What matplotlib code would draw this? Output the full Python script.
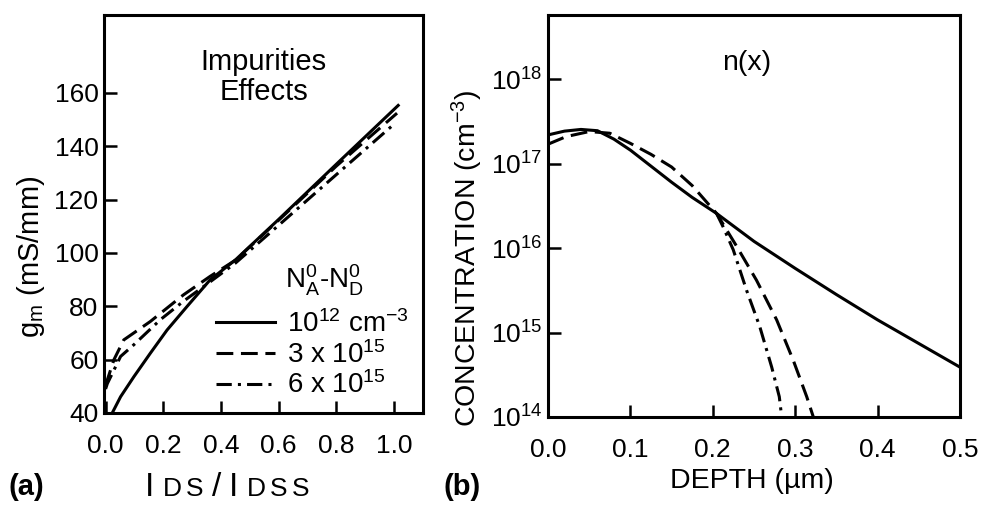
import numpy as np
import matplotlib
matplotlib.use("Agg")
from matplotlib import pyplot as plt
from matplotlib.ticker import FixedLocator, FormatStrFormatter, FixedFormatter
from matplotlib.offsetbox import TextArea, HPacker, AnnotationBbox

plt.rcParams['font.family'] = ['Liberation Sans', 'DejaVu Sans']
plt.rcParams['mathtext.default'] = 'regular'

# (a) transconductance vs normalised drain current
ids_solid = [0.023, 0.052, 0.098, 0.155, 0.213, 0.282, 0.362, 0.45, 0.6, 0.8, 1.014]
gm_solid = [40.0, 46.1, 53.6, 62.4, 71.1, 79.9, 89.9, 97.4, 112.6, 133.3, 155.3]

ids_dash = [0.0, 0.006, 0.029, 0.063, 0.155, 0.27, 0.362, 0.45, 0.6, 0.8, 1.01]
gm_dash = [50.0, 52.4, 60.0, 67.4, 74.3, 84.3, 91.2, 97.3, 112.3, 132.6, 152.4]

ids_dashdot = [0.0, 0.006, 0.052, 0.098, 0.19, 0.27, 0.36, 0.45, 0.6, 0.8, 1.003]
gm_dashdot = [49.0, 51.0, 61.2, 65.6, 75.0, 81.9, 89.0, 96.2, 110.4, 129.4, 148.6]

doping_labels = ["10$^{12}$ cm$^{-3}$", "3 x 10$^{15}$", "6 x 10$^{15}$"]
gm_ticks = [40, 60, 80, 100, 120, 140, 160]
ids_ticks = [0.0, 0.2, 0.4, 0.6, 0.8, 1.0]

# (b) electron concentration profiles, log10(n) vs depth
depth_solid = [0.0, 0.02, 0.04, 0.06, 0.08, 0.10, 0.125, 0.15, 0.175, 0.2046,
               0.25, 0.30, 0.35, 0.40, 0.45, 0.5]
logn_solid = [17.34, 17.385, 17.405, 17.39, 17.29, 17.16, 16.97, 16.78, 16.60, 16.41,
              16.08, 15.76, 15.45, 15.15, 14.87, 14.59]

depth_dash = [0.0, 0.022, 0.05, 0.075, 0.10, 0.125, 0.15, 0.175, 0.2046, 0.229,
              0.253, 0.2775, 0.2977, 0.314, 0.322]
logn_dash = [17.23, 17.32, 17.38, 17.36, 17.24, 17.11, 16.96, 16.74, 16.41, 16.02,
             15.62, 15.15, 14.67, 14.24, 14.0]

depth_dashdot = [0.2046, 0.2126, 0.2248, 0.241, 0.257, 0.2715, 0.2807, 0.2836]
logn_dashdot = [16.41, 16.25, 15.98, 15.50, 15.07, 14.59, 14.24, 14.0]

depth_ticks = [0.0, 0.1, 0.2, 0.3, 0.4, 0.5]
conc_exps = [14, 15, 16, 17, 18]

lw = 2.2
dash = (0, (5.5, 2.5))
dashdot = (0, (5, 2, 1, 2))
tick_fs = 19
label_fs = 20.5

fig = plt.figure(figsize=(9.81, 5.05), dpi=100)
ax1 = fig.add_axes([104 / 981, 1 - 413 / 505, 319 / 981, 398 / 505])
ax2 = fig.add_axes([548 / 981, 1 - 417 / 505, 412 / 981, 402 / 505])

for ax in (ax1, ax2):
    for sp in ax.spines.values():
        sp.set_linewidth(2.2)
    ax.tick_params(direction='in', length=9, width=1.8, labelsize=tick_fs)
    ax.tick_params(axis='x', pad=15)
    ax.tick_params(axis='y', pad=4)

# left panel
ax1.plot(ids_solid, gm_solid, color='black', lw=lw, ls='-', label=doping_labels[0])
ax1.plot(ids_dash, gm_dash, color='black', lw=lw, ls=dash, label=doping_labels[1])
ax1.plot(ids_dashdot, gm_dashdot, color='black', lw=lw, ls=dashdot, label=doping_labels[2])
ax1.set_xlim(-0.0055, 1.10)
ax1.set_ylim(40, 189.2)
ax1.xaxis.set_major_locator(FixedLocator(ids_ticks))
ax1.xaxis.set_major_formatter(FormatStrFormatter('%.1f'))
ax1.yaxis.set_major_locator(FixedLocator(gm_ticks))

ax1.text(0.50, 0.845, "Impurities\nEffects", transform=ax1.transAxes,
         ha='center', va='center', fontsize=21, linespacing=1.1)
ax1.text(0.69, 0.334, "N$^0_A$-N$^0_D$", transform=ax1.transAxes,
         ha='center', va='center', fontsize=20)
ax1.legend(loc='center left', bbox_to_anchor=(0.352, 0.146), frameon=False,
           fontsize=20, handlelength=2.1, handletextpad=0.45, labelspacing=0.1,
           borderpad=0, borderaxespad=0)

# right panel
ax2.plot(depth_solid, np.power(10.0, logn_solid), color='black', lw=lw, ls='-')
ax2.plot(depth_dash, np.power(10.0, logn_dash), color='black', lw=lw, ls=dash)
ax2.plot(depth_dashdot, np.power(10.0, logn_dashdot), color='black', lw=lw, ls=dashdot)
ax2.set_yscale('log')
ax2.set_xlim(0, 0.5)
ax2.set_ylim(1e14, 10 ** 18.76)
ax2.xaxis.set_major_locator(FixedLocator(depth_ticks))
ax2.xaxis.set_major_formatter(FormatStrFormatter('%.1f'))
ax2.yaxis.set_major_locator(FixedLocator([10.0 ** e for e in conc_exps]))
ax2.yaxis.set_major_formatter(FixedFormatter(["10$^{%d}$" % e for e in conc_exps]))
ax2.yaxis.set_minor_locator(FixedLocator([]))
ax2.text(0.483, 0.88, "n(x)", transform=ax2.transAxes,
         ha='center', va='center', fontsize=20.5)

# axis labels and panel letters
fig.text(31 / 981, 1 - 257 / 505, "g$_m$ (mS/mm)", rotation=90,
         ha='center', va='center', fontsize=21)
fig.text(467 / 981, 1 - 258 / 505, "CONCENTRATION (cm$^{-3}$)", rotation=90,
         ha='center', va='center', fontsize=label_fs)
fig.text(752 / 981, 1 - 481 / 505, "DEPTH (\u00b5m)",
         ha='center', va='center', fontsize=label_fs)
fig.text(26 / 981, 1 - 487 / 505, "(a)", ha='center', va='center',
         fontsize=21, fontweight='bold')
fig.text(462 / 981, 1 - 487 / 505, "(b)", ha='center', va='center',
         fontsize=21, fontweight='bold')

# I_DS/I_DSS written with small capitals on the baseline
groups = [[("I", 24)], [("D", 19), ("S", 19)], [("/", 24)], [("I", 24)],
          [("D", 19), ("S", 19), ("S", 19)]]
packs = [HPacker(children=[TextArea(s, textprops=dict(fontsize=fs)) for s, fs in g],
                 align='baseline', pad=0, sep=3)
         for g in groups]
box = HPacker(children=packs, align='baseline', pad=0, sep=6)
fig.add_artist(AnnotationBbox(box, (227 / 981, 1 - 488 / 505), xycoords='figure fraction',
                              frameon=False, box_alignment=(0.5, 0.5)))

fig.savefig("out.png", dpi=100)
